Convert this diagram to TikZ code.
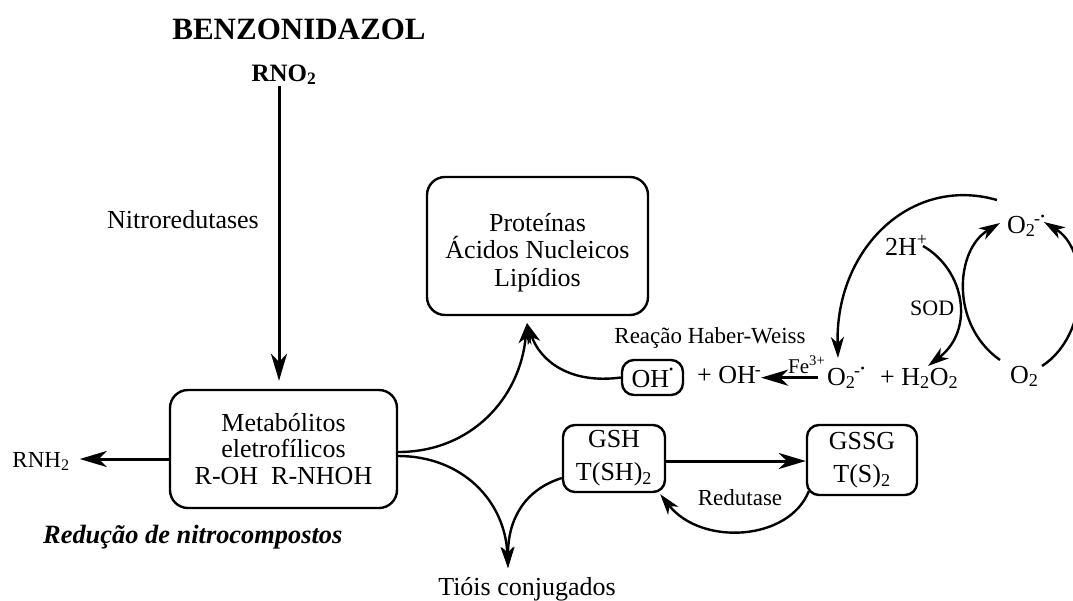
\documentclass[tikz,border=0pt]{standalone}
\usepackage{fontspec}
\setmainfont{Liberation Serif}
\usetikzlibrary{arrows.meta}
\newcommand{\rdot}[1][15pt]{\raisebox{#1}{\fontsize{12}{12}\selectfont\textbullet}}
\newcommand{\rmin}[1][9pt]{\raisebox{#1}{\fontsize{18}{18}\selectfont -}}
\newcommand{\radO}{O\textsubscript{2}\kern-1.5pt\rmin\kern0.5pt\rdot[13pt]}
\begin{document}
\begin{tikzpicture}[x=1pt,y=-1pt,
  fs/.style={font=\fontsize{26}{27}\selectfont},
  sm/.style={font=\fontsize{23}{24}\selectfont},
  box/.style={draw, line width=2.4pt, rounded corners=18pt, align=center, inner sep=0pt},
  lbl/.style={inner sep=0pt},
  sarr/.style={line width=3pt, -{Stealth[length=27pt,width=16pt,inset=8pt]}},
  carr/.style={line width=2.4pt, -{Stealth[length=21pt,width=13pt,inset=6pt]}}]
\fill[white] (0,0) rectangle (1073,600);
\useasboundingbox (0,0) rectangle (1073,600);
\clip (0,0) rectangle (1073,600);

% titles
\node[lbl, font=\bfseries\fontsize{31}{31}\selectfont, anchor=base] (benz) at (299,39) {BENZONIDAZOL};
\node[lbl, font=\bfseries\fontsize{25}{25}\selectfont, anchor=base] (rno2) at (284,81) {RNO\textsubscript{2}};
\node[lbl, fs, anchor=base] (nitro) at (183,228) {Nitroredutases};

% boxes
\node[box, font=\fontsize{26}{26.5}\selectfont, minimum width=227pt, minimum height=118pt] (meta) at (283.5,449) {Metabólitos\\eletrofílicos\\R-OH\ \ R-NHOH};
\node[box, font=\fontsize{26}{27.5}\selectfont, minimum width=221pt, minimum height=138pt] (prot) at (537.5,246) {\rule{0pt}{31pt}Proteínas\\Ácidos Nucleicos\\Lipídios};
\node[box, fs, rounded corners=12pt, minimum width=61pt, minimum height=35pt] (oh) at (652.5,377.5) {OH\rdot[14pt]};
\node[box, font=\fontsize{26}{33}\selectfont, rounded corners=12pt, minimum width=102pt, minimum height=67pt] (gsh) at (614,458.5) {GSH\\T(SH)\textsubscript{2}};
\node[box, font=\fontsize{26}{33}\selectfont, rounded corners=12pt, minimum width=110pt, minimum height=70pt] (gssg) at (862,460) {GSSG\\T(S)\textsubscript{2}};

% labels
\node[lbl, sm, anchor=base] (rnh2) at (41,467) {RNH\textsubscript{2}};
\node[lbl, font=\bfseries\itshape\fontsize{26.4}{27}\selectfont, anchor=base west] (red) at (43,543) {Redução de nitrocompostos};
\node[lbl, sm, anchor=base] (hw) at (710,343) {Reação Haber-Weiss};
\node[lbl, fs, anchor=base west] (ohm) at (697,383) {+ OH\kern-1pt\rmin[8pt]};
\node[lbl, font=\fontsize{21}{21}\selectfont, anchor=base west] (fe) at (788,373) {Fe\textsuperscript{3+}};
\node[lbl, fs, anchor=base west] (o2m) at (827,385) {\radO};
\node[lbl, fs, anchor=base west] (h2o2) at (880,385) {+ H\textsubscript{2}O\textsubscript{2}};
\node[lbl, fs, anchor=base west] (twoh) at (885,255) {2H\textsuperscript{+}};
\node[lbl, font=\fontsize{22}{22}\selectfont, anchor=base west] (sod) at (910,315) {SOD};
\node[lbl, fs, anchor=base west] (o2top) at (1007,233) {\radO};
\node[lbl, fs, anchor=base west] (o2bot) at (1010,383) {O\textsubscript{2}};
\node[lbl, sm, anchor=base] (redut) at (740,505) {Redutase};
\node[lbl, fs, anchor=base] (tioi) at (527,595) {Tióis conjugados};

% junction points
\coordinate (pj) at (527,323);
\coordinate (tj) at (508,568);
\coordinate (vtop) at (279,86);
\coordinate (ma) at ([yshift=-10pt]meta.west);
\coordinate (mb) at ([yshift=-3pt]meta.east);
\coordinate (mc) at ([yshift=-7pt]meta.east);
\coordinate (ga) at ([yshift=-19.5pt]gsh.west);
\coordinate (gb) at ([yshift=-2.5pt]gsh.east);
\coordinate (gc) at ([xshift=3pt,yshift=5pt]gssg.south west);
\coordinate (gd) at ([xshift=-6pt,yshift=-1pt]gsh.south east);
\coordinate (oa) at ([xshift=-9pt]o2m.west);
\coordinate (a1) at (997,200);
\coordinate (a2) at (838,358);
\coordinate (b1) at (923,246);
\coordinate (b2) at (928,366);
\coordinate (c1) at (1000,360);
\coordinate (c2) at (1000,223);
\coordinate (d1) at (1042,366);
\coordinate (d2) at (1044,222);

% connectors
\draw[sarr, shorten >=8pt] (vtop) -- (vtop |- meta.north);
\draw[sarr, shorten >=10pt] (ma) -- (ma -| rnh2.east);
\draw[carr] (mb) .. controls +(73,0) and +(-7,75) .. (pj);
\draw[carr] (oh.west) .. controls +(-52,7) and +(13,37) .. (pj);
\draw[carr] (mc) .. controls +(63,0) and +(-3,-68) .. (tj);
\draw[carr] (ga) .. controls +(-38,12) and +(0,-48) .. (tj);
\draw[sarr] (gb) -- (gb -| gssg.west);
\draw[carr] (gc) .. controls +(-20,50) and +(41,52) .. (gd);
\draw[sarr] (oa) -- (oa -| ohm.east);
\draw[carr] (a1) .. controls (910,175) and (835,250) .. (a2);
\draw[carr] (b1) .. controls (965,270) and (975,330) .. (b2);
\draw[carr] (c1) .. controls (950,325) and (955,250) .. (c2);
\draw[carr] (d1) .. controls (1090,335) and (1090,250) .. (d2);
\end{tikzpicture}
\end{document}
